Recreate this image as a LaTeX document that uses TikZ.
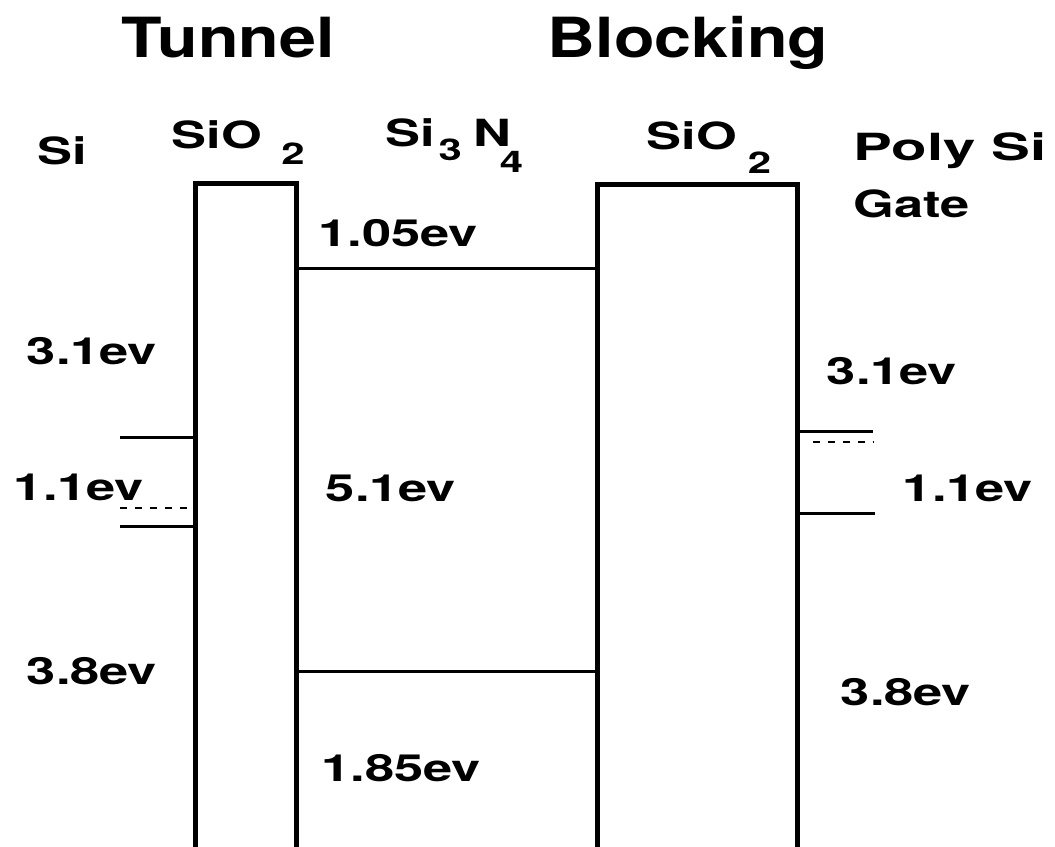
\documentclass[tikz,border=0pt]{standalone}
\usepackage{fontspec}
\setmainfont{TeX Gyre Heros}
\usepackage{tikz}

\newcommand{\sbs}[2][-0.45em]{\raisebox{#1}{\fontsize{17}{17}\selectfont #2}}

\tikzset{
  ttl/.style={font=\bfseries\fontsize{31.5}{36}\selectfont, xscale=1.2, inner sep=0pt},
  lbl/.style={font=\bfseries\fontsize{21.3}{25}\selectfont, xscale=1.4, inner sep=0pt},
  oxide/.style={line width=2.6pt},
  level/.style={line width=1.7pt},
  fermi/.style={line width=1.3pt, dash pattern=on 4pt off 4.5pt}
}

\begin{document}
\begin{tikzpicture}[x=0.02cm,y=-0.02cm]
  \useasboundingbox (0,0) rectangle (1055,846);
  % oxide barriers
  \draw[oxide] (195.5,848) -- (195.5,183.5) -- (296.5,183.5) -- (296.5,848);
  \draw[oxide] (597.5,848) -- (597.5,184.5) -- (797.5,184.5) -- (797.5,848);
  % nitride band edges
  \draw[level] (296.5,268) -- (597.5,268);
  \draw[level] (296.5,671) -- (597.5,671);
  % substrate
  \draw[level] (120,437) -- (195.5,437);
  \draw[fermi] (120,508) -- (195.5,508);
  \draw[level] (120,526) -- (195.5,526);
  % gate
  \draw[level] (797.5,431) -- (873,431);
  \draw[fermi] (813,442) -- (873,442);
  \draw[level] (797.5,513) -- (875,513);
  % titles
  \node[ttl, anchor=base] (tunnel) at (228,57) {Tunnel};
  \node[ttl, anchor=base] (blocking) at (688,57) {Blocking};
  % layers
  \node[lbl, anchor=base] (si) at (62,164) {Si};
  \node[lbl, anchor=base west] (oxl) at (171,148) {SiO\kern8pt\sbs{2}};
  \node[lbl, anchor=base west] (nit) at (385,146) {Si\kern1.5pt\sbs[-0.4em]{3}\kern4.5pt N\kern-4.5pt\sbs[-0.7em]{4}};
  \node[lbl, anchor=base west] (oxr) at (646,149) {SiO\kern4.5pt\sbs[-0.65em]{2}};
  \node[lbl, anchor=base west, xscale=1.11] (poly) at (853,160) {Poly Si};
  \node[lbl, anchor=base west] (gate) at (853,217) {Gate};
  % energies
  \node[lbl, anchor=base] (cbn) at (398,246) {1.05ev};
  \node[lbl, anchor=base] (gapn) at (391,501) {5.1ev};
  \node[lbl, anchor=base] (vbn) at (401,781) {1.85ev};
  \node[lbl, anchor=base] (cbl) at (92,364) {3.1ev};
  \node[lbl, anchor=base] (gapl) at (79,500) {1.1ev};
  \node[lbl, anchor=base] (vbl) at (92,684) {3.8ev};
  \node[lbl, anchor=base] (cbr) at (892,384) {3.1ev};
  \node[lbl, anchor=base] (gapr) at (968,501) {1.1ev};
  \node[lbl, anchor=base] (vbr) at (906,705) {3.8ev};
\end{tikzpicture}
\end{document}
